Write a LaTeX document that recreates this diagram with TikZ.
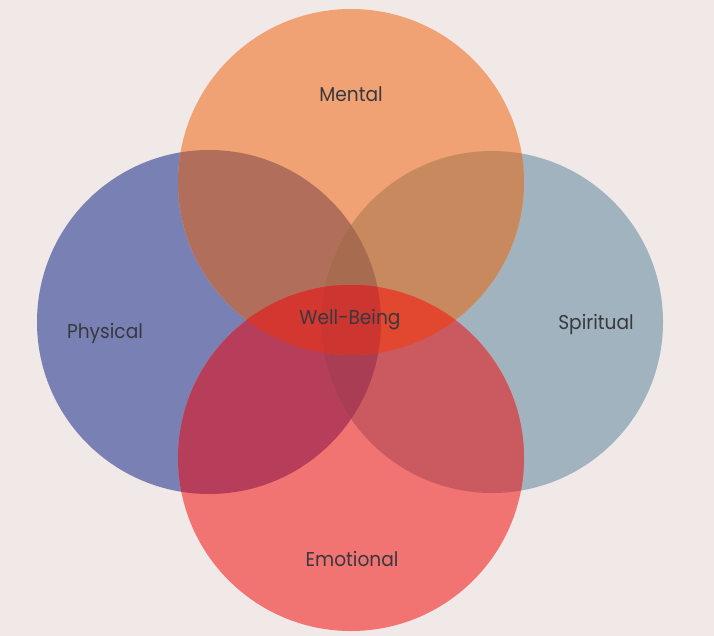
\documentclass[tikz,border=0pt]{standalone}
\usepackage{fontspec}
\setmainfont{Poppins}
\definecolor{bg}{HTML}{F0E9E7}
\definecolor{colM}{HTML}{F0A274}
\definecolor{colP}{HTML}{7980B4}
\definecolor{colS}{HTML}{A1B3BF}
\definecolor{colE}{HTML}{F27472}
\definecolor{colMP}{HTML}{B16E5B}
\definecolor{colMS}{HTML}{C8895F}
\definecolor{colEP}{HTML}{B73E5B}
\definecolor{colES}{HTML}{CB5A60}
\definecolor{colMPS}{HTML}{A76C4F}
\definecolor{colEPS}{HTML}{A83D53}
\definecolor{colMEP}{HTML}{D3372F}
\definecolor{colMES}{HTML}{E1482F}
\definecolor{colMEPS}{HTML}{CD3630}
\definecolor{txt}{HTML}{38383F}
\newcommand{\narrowtext}[1]{\scalebox{0.93}[1]{#1}}
\begin{document}
\begin{tikzpicture}[x=1pt,y=-1pt,
  lbl/.style={text=txt, font=\fontsize{20}{24}\selectfont, anchor=base, inner sep=0pt}]
\def\cM{(351,182) circle[radius=173]}
\def\cP{(209,322) circle[radius=172]}
\def\cS{(492,322) circle[radius=171]}
\def\cE{(351,458) circle[radius=173]}
\fill[bg] (0,0) rectangle (714,636);
% single circles
\fill[colP] \cP;
\fill[colS] \cS;
\fill[colM] \cM;
\fill[colE] \cE;
% pairs
\begin{scope}\clip \cM; \fill[colMP] \cP; \fill[colMS] \cS; \end{scope}
\begin{scope}\clip \cE; \fill[colEP] \cP; \fill[colES] \cS; \end{scope}
% triples
\begin{scope}\clip \cP; \clip \cS; \fill[colMPS] \cM; \fill[colEPS] \cE; \end{scope}
\begin{scope}\clip \cM; \clip \cE; \fill[colMEP] \cP; \fill[colMES] \cS; \end{scope}
% quadruple
\begin{scope}\clip \cM; \clip \cE; \clip \cP; \fill[colMEPS] \cS; \end{scope}
% labels
\node[lbl] (mental) at (351,102) {\narrowtext{Mental}};
\node[lbl] (physical) at (105,338) {\narrowtext{Physical}};
\node[lbl] (spiritual) at (596,329) {\narrowtext{Spiritual}};
\node[lbl] (emotional) at (352,566) {\narrowtext{Emotional}};
\node[lbl] (wellbeing) at (350,324) {\narrowtext{Well-Being}};
\end{tikzpicture}
\end{document}
